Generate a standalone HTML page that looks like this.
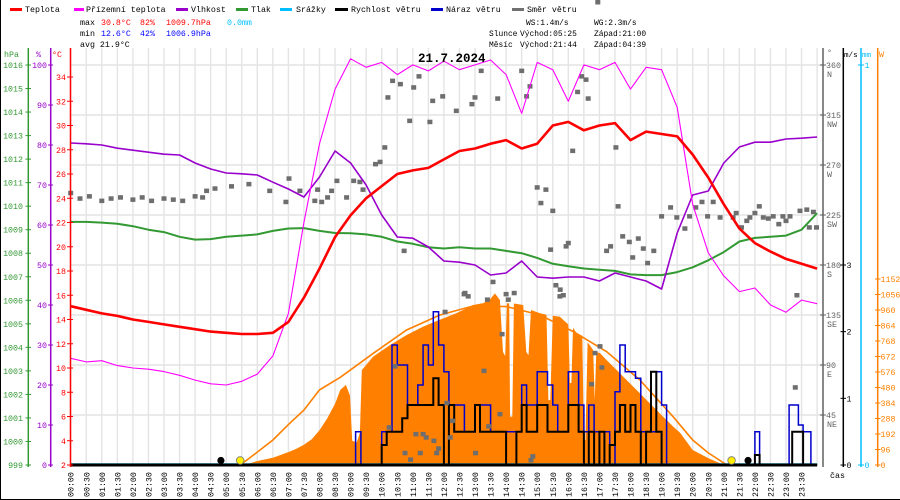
<!DOCTYPE html>
<html><head><meta charset="utf-8">
<style>
html,body{margin:0;padding:0;background:#fff;}
svg{display:block;font-family:"Liberation Mono",monospace;}
</style></head>
<body>
<svg id="chart" width="900" height="500" viewBox="0 0 900 500" xmlns="http://www.w3.org/2000/svg">
<g id="grid"></g>
<g id="plot"></g>
<g id="axes"></g>
<g id="header" font-size="8.3">
  <g>
    <g><rect x="10" y="8" width="12" height="3" fill="#ff0000"/><text x="25" y="12">Teplota</text></g>
    <g><rect x="74" y="8" width="10" height="3" fill="#ff00ff"/><text x="86" y="12">Přízemní teplota</text></g>
    <g><rect x="176" y="8" width="12" height="3" fill="#9900cc"/><text x="191" y="12">Vlhkost</text></g>
    <g><rect x="236" y="8" width="12" height="3" fill="#339933"/><text x="251" y="12">Tlak</text></g>
    <g><rect x="280" y="8" width="12" height="3" fill="#00bfff"/><text x="296" y="12">Srážky</text></g>
    <g><rect x="335" y="8" width="13" height="3" fill="#000"/><text x="351" y="12">Rychlost větru</text></g>
    <g><rect x="431" y="8" width="12" height="3" fill="#0000cc"/><text x="446" y="12">Náraz větru</text></g>
    <g><rect x="512" y="8" width="12" height="3" fill="#707070"/><text x="527" y="12">Směr větru</text></g>
  </g>
  <g>
    <text x="80" y="25">max</text><text x="101" y="25" fill="#ff0000">30.8°C</text><text x="140" y="25" fill="#ff0000">82%</text><text x="166" y="25" fill="#ff0000">1009.7hPa</text><text x="227" y="25" fill="#00bfff">0.0mm</text>
    <text x="80" y="36">min</text><text x="101" y="36" fill="#0000ff">12.6°C</text><text x="140" y="36" fill="#0000ff">42%</text><text x="166" y="36" fill="#0000ff">1006.9hPa</text>
    <text x="80" y="47">avg 21.9°C</text>
  </g>
  <g font-size="7.9">
    <text x="526" y="25">WS:1.4m/s</text><text x="594" y="25">WG:2.3m/s</text>
    <text x="489" y="36">Slunce</text><text x="520" y="36">Východ:05:25</text><text x="594" y="36">Západ:21:00</text>
    <text x="489" y="47">Měsíc</text><text x="520" y="47">Východ:21:44</text><text x="594" y="47">Západ:04:39</text>
  </g>
  <text x="418" y="62" font-size="12.5" font-weight="bold">21.7.2024</text>
  <g>
    <text x="4" y="57" fill="#339933">hPa</text>
    <text x="36" y="57" fill="#9900cc">%</text>
    <text x="52" y="57" fill="#ff0000">°C</text>
    <text x="827" y="55" fill="#606060">°</text>
    <text x="844" y="57" fill="#000" font-size="7.6">m/s</text>
    <text x="862" y="57" fill="#00bfff" font-size="7.6">mm</text>
    <text x="879" y="57" fill="#ff8000">W</text>
    <text x="830" y="478" fill="#000">čas</text>
  </g>
</g>
<line x1="0.5" y1="0" x2="0.5" y2="500" stroke="#000"/>
<line x1="0" y1="499.5" x2="900" y2="499.5" stroke="#000"/>
</svg>
<script>
// ---------- data ----------
const hours = [0,0.5,1,1.5,2,2.5,3,3.5,4,4.5,5,5.5,6,6.5,7,7.5,8,8.5,9,9.5,10,10.5,11,11.5,12,12.5,13,13.5,14,14.5,15,15.5,16,16.5,17,17.5,18,18.5,19,19.5,20,20.5,21,21.5,22,22.5,23,23.5,24];
const temperature = [15.1,14.8,14.5,14.3,14.0,13.8,13.6,13.4,13.2,13.0,12.9,12.8,12.8,12.9,13.8,15.8,18.2,20.8,22.6,24.0,25.0,26.0,26.3,26.5,27.2,27.9,28.1,28.5,28.8,28.1,28.5,30.0,30.3,29.6,30.0,30.2,28.8,29.5,29.3,29.1,27.6,25.7,23.5,21.5,20.3,19.6,19.0,18.6,18.2];
const feelsLike = [10.8,10.5,10.6,10.2,10.0,9.9,9.7,9.4,9.0,8.7,8.6,8.9,9.5,11.0,14.5,22.0,28.5,33.0,35.5,34.8,35.2,34.2,35.0,34.5,35.3,34.6,35.0,35.4,34.2,31.0,35.2,34.6,32.0,35.0,34.6,35.2,33.0,34.8,34.6,31.5,23.5,19.5,17.6,16.3,16.6,15.2,14.6,15.6,15.3];
const humidity = [80.5,80.3,80,79.2,78.7,78.2,77.7,77.5,75.5,74,73,72.8,72.5,70.7,69,67,72,78.5,75.5,70,62.5,57,56.7,54.5,51,50.7,50,47.5,48,51,47,46.7,47,47,46,48,47,46,44,58,67.5,68.5,75.5,79.5,80.7,80.7,81.5,81.7,82];
const pressure = [1009.33,1009.33,1009.3,1009.25,1009.15,1009.0,1008.9,1008.7,1008.58,1008.6,1008.7,1008.75,1008.8,1008.95,1009.05,1009.07,1008.95,1008.86,1008.85,1008.8,1008.7,1008.5,1008.4,1008.25,1008.2,1008.25,1008.2,1008.2,1008.1,1008.0,1007.8,1007.55,1007.45,1007.35,1007.3,1007.25,1007.1,1007.07,1007.07,1007.2,1007.4,1007.7,1008.05,1008.5,1008.65,1008.7,1008.75,1009.0,1009.7];

const solarT = [5.5,5.75,6.0,6.5,7.0,7.25,7.5,7.75,8.0,8.25,8.5,8.67,8.85,8.98,9.05,9.2,9.3,9.36,9.72,10.27,10.8,11.33,11.85,12.4,12.94,13.27,13.5,13.64,13.8,13.9,13.97,14.03,14.1,14.13,14.2,14.25,14.55,14.65,14.72,14.8,15.09,15.3,15.36,15.42,15.5,15.73,16.0,16.05,16.1,16.15,16.27,16.45,16.5,16.55,16.62,16.8,16.85,16.9,17.02,17.23,17.56,17.77,18.09,18.41,18.73,19.05,19.38,19.6,20.0,20.5,21.0];
const solarW = [0,10,25,45,80,100,125,160,215,290,380,465,496,430,150,140,200,588,671,743,805,857,898,940,991,1003,1030,1063,1022,700,675,1003,1000,300,300,1000,991,700,680,960,940,930,402,402,925,918,870,508,508,850,816,800,155,155,760,712,400,700,693,650,588,547,485,423,361,299,237,198,93,43,0];
const clearT = [5.45,6,6.5,7,7.5,8,8.67,9.73,10.8,11.87,12.94,14.02,15.09,16.16,17.23,18.3,19.37,20,20.5,21.1];
const clearW = [0,80,155,250,340,465,543,692,836,929,985,981,929,826,702,527,299,155,75,0];

const windT = [0,8.66,8.83,9.0,9.16,9.33,9.5,9.66,9.83,10.0,10.16,10.33,10.5,10.66,10.83,11.0,11.16,11.33,11.5,11.66,11.83,12.0,12.16,12.33,12.5,12.66,12.83,13.0,13.16,13.33,13.5,13.66,13.83,14.0,14.16,14.33,14.5,14.66,14.83,15.0,15.16,15.33,15.5,15.66,15.83,16.0,16.16,16.33,16.5,16.66,16.83,17.0,17.16,17.33,17.5,17.66,17.83,18.0,18.16,18.33,18.5,18.66,18.83,19.0,19.16,21.9,22.0,22.15,23.1,23.2,23.4,23.55,23.8,24];
const windSpeed = [0,0,0,0,0,0,0,0,0,0.3,0.5,0.5,0.5,0.7,0.9,0.9,0.9,0.9,0.9,1.3,0.9,0,0.9,0.5,0.5,0.5,0.5,0.9,0.5,0.5,0.5,0.5,0.5,0,0,0.5,0.9,0.5,0.5,0.9,0.9,0.5,0.5,0.5,0.5,0.9,0.9,0.5,0,0.5,0,0.5,0,0.3,0.5,0.9,0.5,0.9,0.5,0,0.5,1.4,0.5,0,0,0,0.15,0,0,0.5,0.5,0,0,0];
const windGust = [0,0,0,0,0.5,0,0,0,0,0.5,0.5,1.8,1.5,1.5,0.9,0.9,1.2,1.8,1.5,2.3,1.8,1.4,0.9,0.9,0.9,0.5,0.5,0.9,0.9,0.9,0.5,0.5,0.5,0.5,0.5,0.5,1.2,0.9,0.9,1.4,1.4,1.2,0.9,0.5,0.5,1.4,1.4,0.9,0.5,0.9,0.5,0,0.5,0,1.1,1.8,1.4,1.4,1.3,0.5,0.5,0.5,1.4,0.9,0,0,0.5,0,0.9,0.9,0.6,0.5,0,0];

const dirT = [0.0,0.3,0.6,1.0,1.3,1.6,2.0,2.3,2.6,3.0,3.3,3.6,4.0,4.24,4.37,4.64,5.17,5.73,6.4,7.02,6.92,7.37,7.85,7.94,8.07,8.26,8.39,8.56,8.87,9.1,9.3,9.4,9.8,9.95,10.1,10.2,10.35,10.6,10.9,11.03,11.2,11.55,11.64,11.96,12.4,12.9,13.0,13.2,13.73,13.58,12.68,13.4,10.72,14.5,14.77,14.66,16.43,16.57,16.3,16.64,16.14,17.53,15.0,15.28,15.12,15.5,17.6,15.43,15.93,16.0,17.75,17.96,18.25,17.36,17.23,18.41,18.75,18.07,18.55,15.6,15.74,15.84,14.26,14.0,19.29,19.0,19.49,19.75,19.9,20.1,20.3,20.66,20.48,20.88,21.3,21.4,21.57,21.74,21.84,22.0,22.14,22.27,22.43,22.59,22.77,22.9,23.0,23.13,23.45,23.67,23.75,23.88,23.98,23.35,23.3,10.43,10.24,11.1,11.33,11.43,10.75,11.24,10.93,11.68,11.83,11.77,12.09,12.2,12.28,12.04,12.65,12.78,13.29,13.44,13.02,13.8,13.87,14.07,14.86,14.8,15.73,16.75,17.08,17.02,16.86,16.95];
const dirDeg = [245,240,242,238,240,241,239,241,238,240,239,238,242,241,247,249,251,253,247,258,237,247,238,248,237,241,247,256,241,256,255,248,271,273,286,331,346,343,310,340,350,309,328,332,319,325,331,355,330,165,155,149,193,355,341,332,350,347,336,330,283,286,250,248,236,229,233,194,197,200,206,201,204,197,193,195,193,187,182,162,158,153,155,154,232,224,223,213,224,232,237,237,224,223,223,227,214,220,223,227,233,223,222,224,217,224,220,224,229,230,214,228,214,153,70,89,34,28,28,25,11,11,5,22,15,11,56,25,40,138,154,152,85,35,11,46,118,149,8,4.5,152,73,88,107,101];

const tickHpa = [999,1000,1001,1002,1003,1004,1005,1006,1007,1008,1009,1010,1011,1012,1013,1014,1015,1016];
const tickPct = [0,10,20,30,40,50,60,70,80,90,100];
const tickC = [2,4,6,8,10,12,14,16,18,20,22,24,26,28,30,32,34];
const tickDir = [45,90,135,180,225,270,315,360];
const tickDirLbl = ["NE","E","SE","S","SW","W","NW","N"];
const tickMs = [0,1,2,3];
const tickMm = [0,1];
const tickW = [0,96,192,288,384,480,576,672,768,864,960,1056,1152];

// ---------- scales ----------
const X = t => 70.7 + t*31.1;
const yT = c => 465 - (c-2)*12.125;
const yP = p => 465 - (p-999)*23.53;
const yH = h => 465 - h*4;
const yD = d => 465 - d*400/360;
const yV = v => 465 - v*66.67;
const yS = w => 465 - w*186/1152;
const yMm = m => 465 - m*400;

const NS = "http://www.w3.org/2000/svg";
function mk(parent, tag, attrs){
  const e = document.createElementNS(NS, tag);
  for (const k in attrs) e.setAttribute(k, attrs[k]);
  parent.appendChild(e);
  return e;
}
const grid = document.getElementById('grid');
const plot = document.getElementById('plot');
const axes = document.getElementById('axes');

for (let i=0;i<=48;i++){
  const x = X(i/2);
  const l = mk(grid,'line',{x1:x,y1:48,x2:x,y2:465,stroke:'#e4e4e4','stroke-width':1.4});
  
  
}
tickDir.forEach(d=>{
  const l = mk(grid,'line',{x1:70,y1:yD(d),x2:823,y2:yD(d),stroke:'#e4e4e4','stroke-width':1.4});
  
  
});

let sp = `M${X(solarT[0])},465 `;
solarT.forEach((t,i)=>{ sp += `L${X(t).toFixed(1)},${yS(solarW[i]).toFixed(1)} `; });
sp += `L${X(solarT[solarT.length-1])},465 Z`;
const solar = mk(plot,'path',{d:sp,fill:'#ff8000'});



const clear = mk(plot,'polyline',{points:clearT.map((t,i)=>X(t).toFixed(1)+','+yS(clearW[i]).toFixed(1)).join(' '),fill:'none',stroke:'#ff8000','stroke-width':1.6});



const rain = mk(plot,'line',{x1:X(0),y1:yMm(0)-0.5,x2:X(24),y2:yMm(0)-0.5,stroke:'#00bfff','stroke-width':2.5});



function stepPath(ts, vs){
  let p = `M${X(ts[0]).toFixed(1)},${yV(vs[0]).toFixed(1)} `;
  for (let i=1;i<ts.length;i++){
    p += `H${X(ts[i]).toFixed(1)} V${yV(vs[i]).toFixed(1)} `;
  }
  return p;
}
const gust = mk(plot,'path',{d:stepPath(windT,windGust),fill:'none',stroke:'#0000cc','stroke-width':1.5});


const speed = mk(plot,'path',{d:stepPath(windT,windSpeed),fill:'none',stroke:'#000','stroke-width':2});


const base = mk(plot,'line',{x1:X(0),y1:465,x2:X(24),y2:465,stroke:'#000','stroke-width':3});



dirT.forEach((t,i)=>{
  const r = mk(plot,'rect',{x:(X(t)-2.5).toFixed(1),y:(yD(dirDeg[i])-2).toFixed(1),width:5,height:4.5,fill:'#6e6e6e'});
  
  
});

function line(vals, ys, color, w){
  return mk(plot,'polyline',{points:hours.map((t,i)=>X(t).toFixed(1)+','+ys(vals[i]).toFixed(1)).join(' '),fill:'none',stroke:color,'stroke-width':w,'stroke-linejoin':'round'});
}
const pr = line(pressure,yP,'#339933',2);


const hu = line(humidity,yH,'#9900cc',1.6);


const fl = line(feelsLike,yT,'#ff00ff',1.1);


const te = line(temperature,yT,'#ff0000',2.6);



const sunT = [5.45,21.25], moonT = [4.83,21.78];
sunT.forEach(t=>{
  const c = mk(plot,'circle',{cx:X(t),cy:460.5,r:3.8,fill:'#ffee00',stroke:'#777','stroke-width':0.8});
  
  
});
moonT.forEach(t=>{
  const c = mk(plot,'circle',{cx:X(t),cy:460.5,r:3.6,fill:'#000'});
  
  
});

function vaxis(x,y1,y2,color,name){
  const l = mk(axes,'line',{x1:x,y1:y1,x2:x,y2:y2,stroke:color,'stroke-width':1.5});
  
  
}
function tlabel(x,y,txt,color,anchor,name){
  const t = mk(axes,'text',{x:x,y:y,fill:color,'font-size':8.3,'text-anchor':anchor});
  t.textContent = txt;
  
  
}
vaxis(28.3,48,467,'#339933','pressure-axis');
tickHpa.forEach(v=>{ mk(axes,'line',{x1:25.5,y1:yP(v),x2:31,y2:yP(v),stroke:'#339933'}); tlabel(23,yP(v)+3,String(v),'#339933','end','pressure-tick-label'); });
vaxis(50.7,48,467,'#9900cc','humidity-axis');
tickPct.forEach(v=>{ mk(axes,'line',{x1:48,y1:yH(v),x2:53,y2:yH(v),stroke:'#9900cc'}); tlabel(47,yH(v)+3,String(v),'#9900cc','end','humidity-tick-label'); });
vaxis(70.5,48,467,'#ff0000','temperature-axis');
tickC.forEach(v=>{ mk(axes,'line',{x1:67,y1:yT(v),x2:73,y2:yT(v),stroke:'#ff0000'}); tlabel(66,yT(v)+3,String(v),'#ff0000','end','temperature-tick-label'); });
vaxis(823,48,467,'#606060','direction-axis');
tickDir.forEach((v,i)=>{ mk(axes,'line',{x1:820,y1:yD(v),x2:826,y2:yD(v),stroke:'#606060'}); tlabel(826,yD(v)+3,String(v),'#606060','start','direction-tick-label'); tlabel(827,yD(v)+12,tickDirLbl[i],'#606060','start','direction-compass-label'); });
vaxis(843.3,48,467,'#000','wind-speed-axis');
tickMs.forEach(v=>{ mk(axes,'line',{x1:840.5,y1:yV(v),x2:846,y2:yV(v),stroke:'#000'}); tlabel(846.5,yV(v)+3,String(v),'#000','start','wind-speed-tick-label'); });
vaxis(861,48,467,'#00bfff','precipitation-axis');
tickMm.forEach(v=>{ mk(axes,'line',{x1:858,y1:yMm(v),x2:864,y2:yMm(v),stroke:'#00bfff'}); tlabel(864.5,yMm(v)+3,String(v),'#00bfff','start','precipitation-tick-label'); });
vaxis(877.7,48,467,'#ff8000','solar-axis');
tickW.forEach(v=>{ mk(axes,'line',{x1:875,y1:yS(v),x2:880.5,y2:yS(v),stroke:'#ff8000'}); tlabel(880.5,yS(v)+3,String(v),'#ff8000','start','solar-tick-label'); });

for (let i=0;i<48;i++){
  const t = i/2;
  const hh = String(Math.floor(t)).padStart(2,'0');
  const mm = (i%2)?'30':'00';
  const x = X(t)+3;
  const e = mk(axes,'text',{x:0,y:0,'font-size':8.3,fill:'#000',transform:`translate(${x.toFixed(1)},497) rotate(-90)`});
  e.textContent = hh+':'+mm;
  
  
}
</script>
</body></html>
